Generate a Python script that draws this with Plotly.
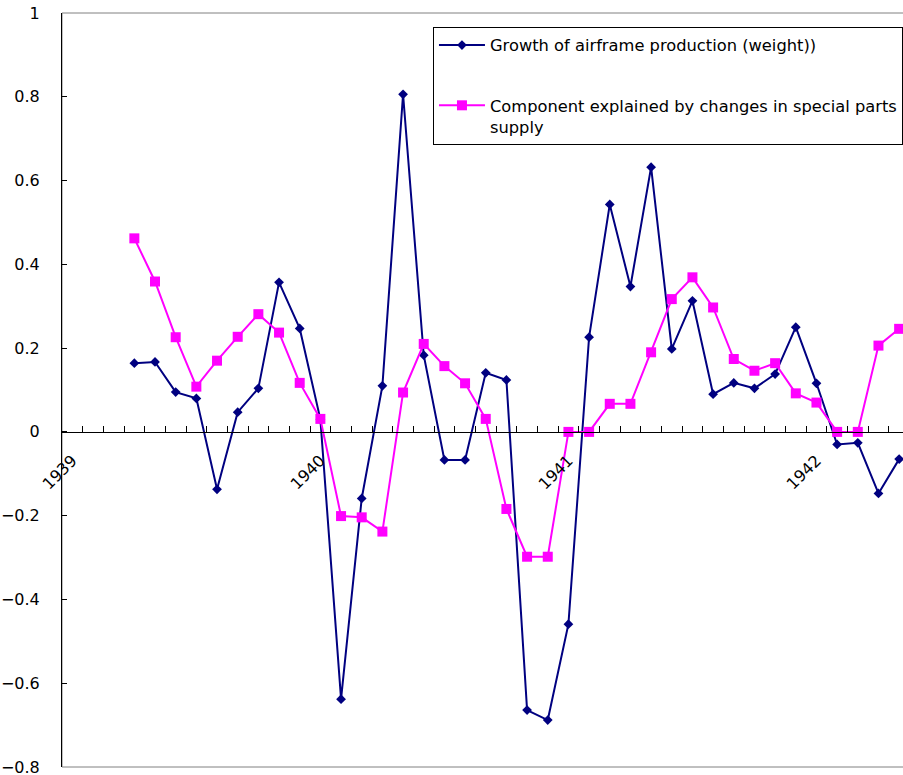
import plotly.graph_objects as go

n_months = 41  # Jan 1939 .. May 1942
months = [f"{1939 + i // 12}-{i % 12 + 1:02d}" for i in range(n_months)]
tick_text = [str(1939 + i // 12) if i % 12 == 0 else "" for i in range(n_months)]

y_tickvals = [1.0, 0.8, 0.6, 0.4, 0.2, 0.0, -0.2, -0.4, -0.6, -0.8]
y_ticktext = ["1", "0.8", "0.6", "0.4", "0.2", "0", "\u22120.2", "\u22120.4", "\u22120.6", "\u22120.8"]

# values from Apr 1939 onward (first three months empty)
growth = [None, None, None,
          0.164, 0.167, 0.095, 0.080, -0.137, 0.047, 0.104, 0.357, 0.247,
          0.030, -0.638, -0.159, 0.110, 0.806, 0.183, -0.067, -0.067, 0.141, 0.124, -0.664, -0.688,
          -0.459, 0.226, 0.543, 0.347, 0.632, 0.198, 0.313, 0.090, 0.117, 0.104, 0.138, 0.250,
          0.116, -0.030, -0.026, -0.147, -0.065]
component = [None, None, None,
             0.462, 0.359, 0.226, 0.108, 0.170, 0.227, 0.281, 0.237, 0.117,
             0.031, -0.201, -0.204, -0.238, 0.094, 0.210, 0.157, 0.116, 0.031, -0.184, -0.298, -0.298,
             0.0, 0.0, 0.067, 0.067, 0.190, 0.317, 0.369, 0.297, 0.174, 0.146, 0.164, 0.092,
             0.070, 0.0, 0.0, 0.206, 0.246]

name_growth = "Growth of airframe production (weight))"
name_comp = "Component explained by changes in special parts<br>supply"

FONT = "DejaVu Sans"
fig = go.Figure()
fig.add_trace(go.Scatter(
    x=months, y=growth, mode="lines+markers", name=name_growth,
    line=dict(color="#000080", width=2),
    marker=dict(symbol="diamond", size=7.5, color="#000080"),
    legendgroup="a",
))
fig.add_trace(go.Scatter(
    x=months, y=component, mode="lines+markers", name=name_comp,
    line=dict(color="#FF00FF", width=2),
    marker=dict(symbol="square", size=10, color="#FF00FF"),
    legendgroup="b",
))

y_min, y_max = -0.8, 1.0
fig.update_layout(
    width=903, height=775,
    margin=dict(l=62, r=0, t=13, b=8),
    paper_bgcolor="white", plot_bgcolor="white",
    font=dict(family=FONT, size=16, color="black"),
    showlegend=True,
    legend=dict(
        x=0.4411, y=0.9814, xanchor="left", yanchor="top",
        bordercolor="black", borderwidth=1, bgcolor="white",
        font=dict(family=FONT, size=16.3, color="black"),
        itemwidth=46, valign="top", tracegroupgap=36,
    ),
    xaxis=dict(
        type="category", categoryorder="array", categoryarray=months,
        range=[-0.5, -0.5 + 841 / 20.67],
        anchor="free", position=(0 - y_min) / (y_max - y_min),
        showline=True, linecolor="black", linewidth=1,
        ticks="inside", ticklen=6, tickcolor="black", tickson="boundaries",
        tickmode="array", tickvals=months, ticktext=tick_text,
        tickangle=-45, showgrid=False, zeroline=False, automargin=False,
        ticklabelstandoff=12,
    ),
    yaxis=dict(
        range=[y_min, y_max],
        tickmode="array", tickvals=y_tickvals, ticktext=y_ticktext,
        showline=True, linecolor="black", linewidth=1,
        ticks="inside", ticklen=5, tickcolor="black",
        showgrid=False, zeroline=False, automargin=False,
        ticklabelstandoff=18, ticklabeloverflow="allow",
    ),
    shapes=[dict(type="rect", xref="paper", yref="paper", x0=0, x1=1.05, y0=0, y1=1,
                 line=dict(color="#808080", width=1), layer="below")],
)

fig.write_html(
    "out.html",
    config={"displayModeBar": False},
    post_script="document.documentElement.style.overflow='hidden';"
                "document.body.style.margin='0';document.body.style.overflow='hidden';",
)
